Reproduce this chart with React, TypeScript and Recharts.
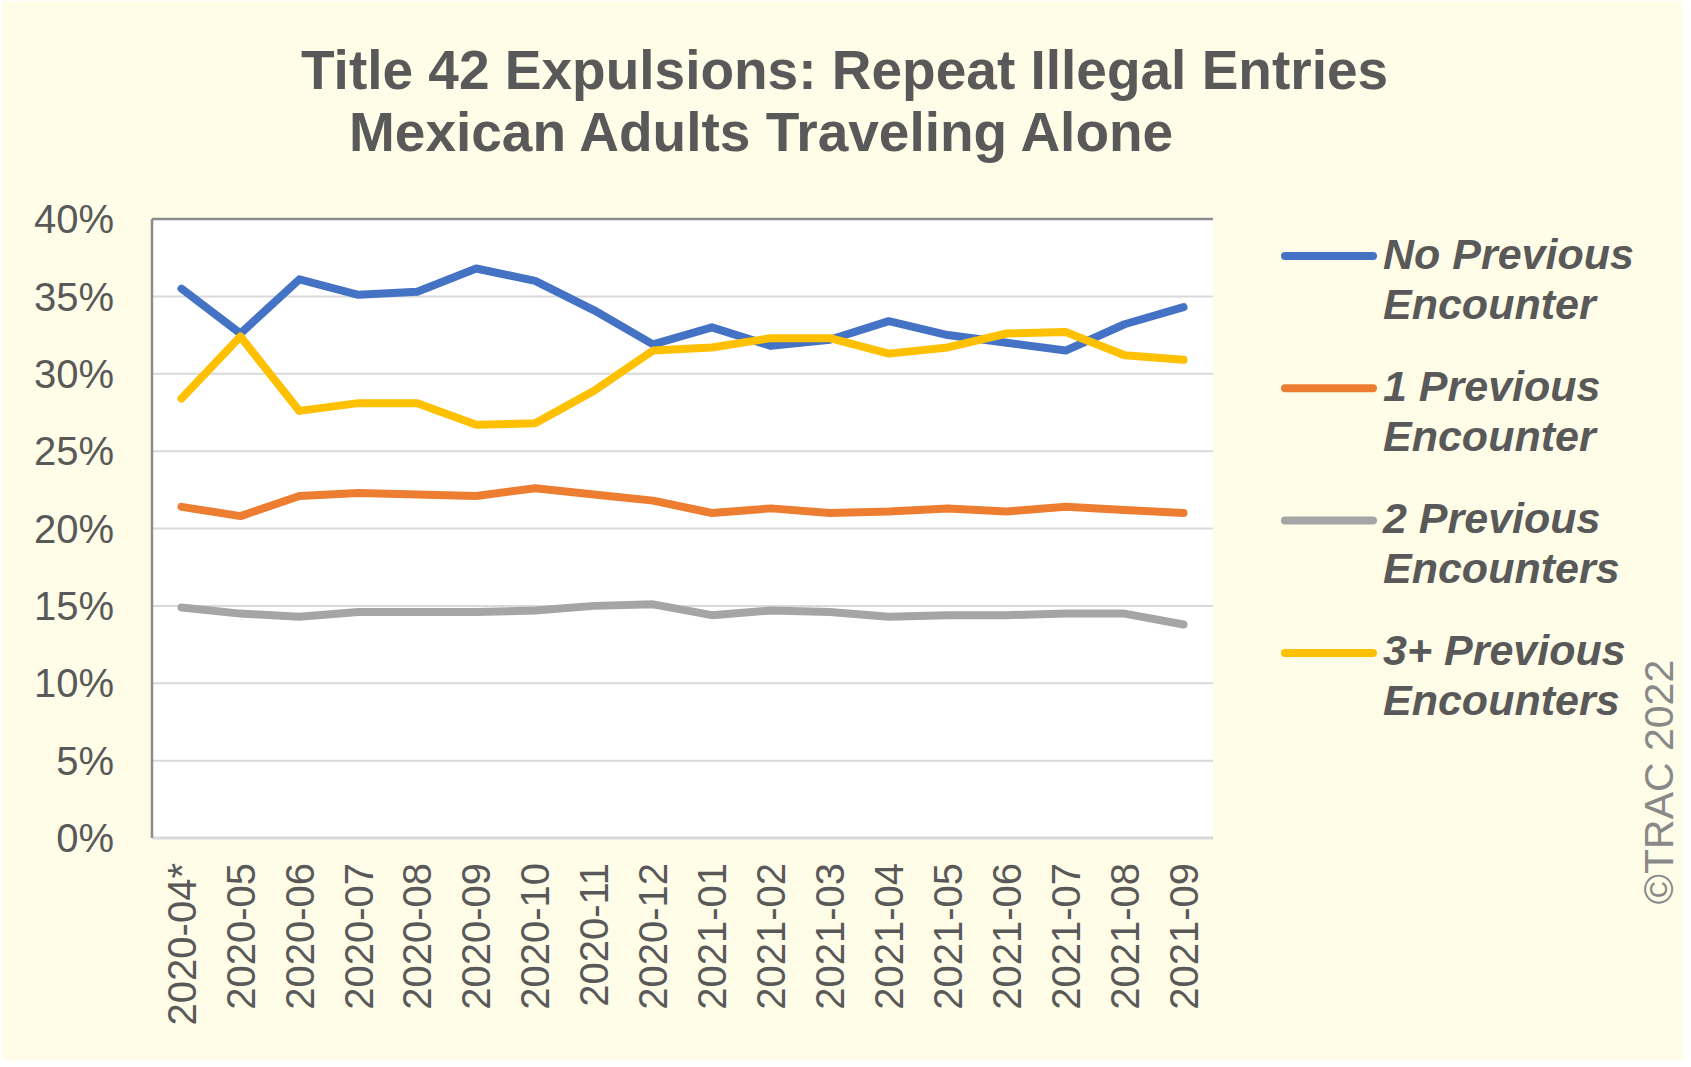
import { LineChart, Line, XAxis, YAxis, CartesianGrid, ReferenceLine } from 'recharts';

const months = [
  '2020-04*', '2020-05', '2020-06', '2020-07', '2020-08', '2020-09', '2020-10', '2020-11', '2020-12',
  '2021-01', '2021-02', '2021-03', '2021-04', '2021-05', '2021-06', '2021-07', '2021-08', '2021-09',
];

// share of expulsions, percent
const noPrevious = [35.5, 32.6, 36.1, 35.1, 35.3, 36.8, 36.0, 34.1, 31.9, 33.0, 31.8, 32.2, 33.4, 32.5, 32.0, 31.5, 33.2, 34.3];
const onePrevious = [21.4, 20.8, 22.1, 22.3, 22.2, 22.1, 22.6, 22.2, 21.8, 21.0, 21.3, 21.0, 21.1, 21.3, 21.1, 21.4, 21.2, 21.0];
const twoPrevious = [14.9, 14.5, 14.3, 14.6, 14.6, 14.6, 14.7, 15.0, 15.1, 14.4, 14.7, 14.6, 14.3, 14.4, 14.4, 14.5, 14.5, 13.8];
const threePlus = [28.4, 32.4, 27.6, 28.1, 28.1, 26.7, 26.8, 28.9, 31.5, 31.7, 32.3, 32.3, 31.3, 31.7, 32.6, 32.7, 31.2, 30.9];

const yTicks = [0, 5, 10, 15, 20, 25, 30, 35, 40];

const series = [
  { key: 'noPrevious', label: ['No Previous', 'Encounter'], color: '#4472C4' },
  { key: 'onePrevious', label: ['1 Previous', 'Encounter'], color: '#ED7D31' },
  { key: 'twoPrevious', label: ['2 Previous', 'Encounters'], color: '#A5A5A5' },
  { key: 'threePlus', label: ['3+ Previous', 'Encounters'], color: '#FFC000' },
];

const data = months.map((month, i) => ({
  month,
  noPrevious: noPrevious[i],
  onePrevious: onePrevious[i],
  twoPrevious: twoPrevious[i],
  threePlus: threePlus[i],
}));

const FONT = '"Liberation Sans", Arial, Helvetica, sans-serif';
const TEXT = '#595959';
const BORDER = '#8c8c8c';

const MonthTick = (props: any) => {
  const { x, y, payload } = props;
  const ty = y + 25;
  return (
    <text
      x={x}
      y={ty}
      dy="0.355em"
      textAnchor="end"
      transform={`rotate(-90, ${x}, ${ty})`}
      fill={TEXT}
      fontSize={40}
      fontFamily={FONT}
    >
      {payload.value}
    </text>
  );
};

export default function App() {
  return (
    <div style={{ position: 'absolute', left: 0, top: 0, width: 1691, height: 1067, background: '#fff' }}>
      <div style={{ position: 'absolute', left: 2, top: 1, width: 1681, height: 1059, background: '#FFFDE8' }} />
      <div style={{ position: 'absolute', left: 0, top: 0 }}>
        <LineChart width={1691} height={1067} data={data} margin={{ top: 219, right: 478, bottom: 0, left: 0 }}>
          <CartesianGrid vertical={false} stroke="#d9d9d9" strokeWidth={2} fill="#ffffff" fillOpacity={1} />
          <XAxis
            dataKey="month"
            interval={0}
            height={229}
            tickLine={false}
            tickSize={0}
            tickMargin={0}
            axisLine={{ stroke: '#d9d9d9', strokeWidth: 3 }}
            padding={{ left: 29.5, right: 29.5 }}
            tick={<MonthTick />}
          />
          <YAxis
            domain={[0, 40]}
            ticks={yTicks}
            width={152}
            tickLine={false}
            tickSize={0}
            tickMargin={38}
            axisLine={{ stroke: BORDER, strokeWidth: 2.5 }}
            tickFormatter={(v) => `${v}%`}
            tick={{ fill: TEXT, fontSize: 40, fontFamily: FONT }}
          />
          <YAxis
            yAxisId="right"
            orientation="right"
            domain={[0, 40]}
            ticks={yTicks}
            width={0}
            tick={false}
            tickLine={false}
            axisLine={{ stroke: BORDER, strokeWidth: 2.5 }}
          />
          <ReferenceLine y={40} stroke={BORDER} strokeWidth={2.5} />
          {series.map((s) => (
            <Line
              key={s.key}
              type="linear"
              dataKey={s.key}
              stroke={s.color}
              strokeWidth={8}
              strokeLinecap="round"
              strokeLinejoin="round"
              dot={false}
              activeDot={false}
              isAnimationActive={false}
            />
          ))}
        </LineChart>
      </div>
      <svg width={1691} height={1067} style={{ position: 'absolute', left: 0, top: 0, pointerEvents: 'none' }}>
        <g fontFamily={FONT} fontWeight="bold" fontSize={55} fill={TEXT}>
          <text x={301} y={89}>Title 42 Expulsions: Repeat Illegal Entries</text>
          <text x={349} y={151}>Mexican Adults Traveling Alone</text>
        </g>
        {series.map((s, i) => {
          const ly = 256 + i * 132.3;
          return (
            <g key={s.key}>
              <line x1={1285} x2={1373} y1={ly} y2={ly} stroke={s.color} strokeWidth={8} strokeLinecap="round" />
              <text x={1383} y={ly + 12.5} fontFamily={FONT} fontSize={43} fontWeight="bold" fontStyle="italic" fill={TEXT}>
                {s.label[0]}
              </text>
              <text x={1383} y={ly + 62.5} fontFamily={FONT} fontSize={43} fontWeight="bold" fontStyle="italic" fill={TEXT}>
                {s.label[1]}
              </text>
            </g>
          );
        })}
        <text
          x={1658}
          y={782}
          dy="0.355em"
          textAnchor="middle"
          transform="rotate(-90, 1658, 782)"
          fontFamily={FONT}
          fontSize={41}
          fill="#898989"
        >
          ©TRAC 2022
        </text>
      </svg>
    </div>
  );
}
